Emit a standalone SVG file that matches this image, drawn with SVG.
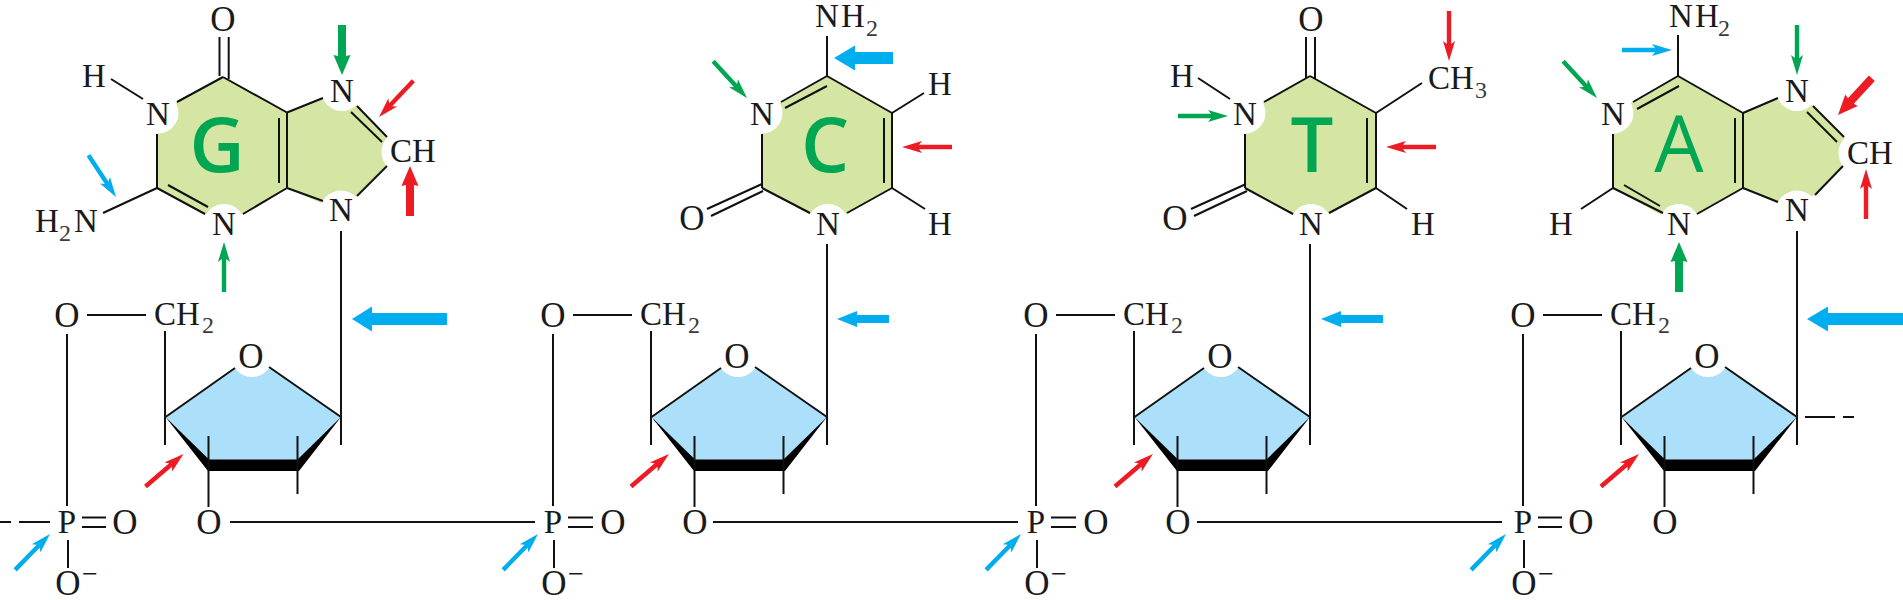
<svg xmlns="http://www.w3.org/2000/svg" xmlns:xlink="http://www.w3.org/1999/xlink" width="1903" height="600" viewBox="0 0 1903 600">
<style>
text{font-family:"Liberation Serif","Times New Roman",serif;font-size:33px;fill:#1a1a1a}
.m{text-anchor:middle}
.o{font-size:35px}
.s{font-size:24px;fill:#3a3a3a}
.l{font-family:"Open Sans","Noto Sans",sans-serif;font-size:76px;font-weight:600;fill:#00a651;text-anchor:middle}
.base{fill:#d5e5a3}
.sug{fill:#abdffa}
.w{fill:#fff}
.k{fill:#000}
line,polyline{stroke:#111;stroke-width:2;fill:none}
.r{fill:#ed1c24}.g{fill:#00a651}.b{fill:#00aeef}
</style>
<defs>
<path id="thin" d="M0 0L-20-6-17-2.2H-50V2.2H-17L-20 6Z"/>
<path id="thick" d="M0 0L-20-8.5-19-4H-50V4H-19L-20 8.5Z"/>
<g id="ring">
<polygon class="sug" points="165.500,417 253,356 341,417 297.500,465 209,465"/>
<circle class="w" cx="252" cy="356" r="21"/>
<polygon class="k" points="165.500,417 209,459.500 297.500,459.500 341,417 299,471 208,471"/>
</g>
</defs>
<rect width="1903" height="600" fill="#fff"/>

<g id="base-G">
<polygon class="base" points="223,77 287,112.500 342,90 387,137 395,152 387,166 341,212 287,188 224,225 157,188 157,113"/>
<circle class="w" cx="158" cy="113" r="20.500"/><circle class="w" cx="224" cy="225" r="21"/><circle class="w" cx="342" cy="90" r="21"/><circle class="w" cx="341" cy="212" r="21.500"/><circle class="w" cx="403" cy="152" r="21.500"/>
<text class="l" x="217" y="172">G</text>
<text class="m o" x="223" y="31">O</text><text class="m" x="94" y="87">H</text><text class="m" x="158" y="125">N</text>
<text class="m" x="342" y="102">N</text><text x="390" y="162">CH</text><text class="m" x="341" y="221">N</text><text class="m" x="224" y="235">N</text>
<text x="35" y="232">H<tspan class="s" x="59" y="241">2</tspan><tspan x="74" y="232">N</tspan></text>
</g>
<g id="base-C">
<polygon class="base" points="827,76 892,113 892,188 828,225 762,188 762,113"/>
<circle class="w" cx="762" cy="113" r="20.500"/><circle class="w" cx="828" cy="225" r="21"/>
<text class="l" x="825" y="172">C</text>
<text x="815" y="27">N<tspan x="841" y="27">H</tspan><tspan class="s" x="866" y="36">2</tspan></text>
<text class="m" x="762" y="125">N</text><text class="m" x="940" y="95">H</text><text class="m" x="940" y="235">H</text><text class="m o" x="692" y="230">O</text><text class="m" x="828" y="235">N</text>
</g>
<g id="base-T">
<polygon class="base" points="1310,76 1376,113 1376,188 1310,225 1245,188 1245,113"/>
<circle class="w" cx="1245" cy="113" r="20.500"/><circle class="w" cx="1311" cy="225" r="21"/>
<text class="l" x="1312" y="172">T</text>
<text class="m o" x="1311" y="31">O</text><text class="m" x="1182" y="87">H</text><text class="m" x="1245" y="125">N</text>
<text x="1428" y="89">CH<tspan class="s" x="1475" y="98">3</tspan></text>
<text class="m" x="1423" y="235">H</text><text class="m o" x="1175" y="230">O</text><text class="m" x="1311" y="235">N</text>
</g>
<g id="base-A">
<polygon class="base" points="1678,76 1743,113 1797,90 1844,137 1852,152 1843,166 1797,212 1743,188 1679,225 1613,188 1613,113"/>
<circle class="w" cx="1613" cy="113" r="20.500"/><circle class="w" cx="1679" cy="225" r="21"/><circle class="w" cx="1797" cy="90" r="21"/><circle class="w" cx="1797" cy="212" r="21.500"/><circle class="w" cx="1860" cy="153" r="21.500"/>
<text class="l" x="1679" y="172" style="font-weight:400;font-size:78px">A</text>
<text x="1669" y="27">N<tspan x="1695" y="27">H</tspan><tspan class="s" x="1718" y="36">2</tspan></text>
<text class="m" x="1613" y="125">N</text><text class="m" x="1797" y="102">N</text><text x="1847" y="164">CH</text><text class="m" x="1797" y="221">N</text><text class="m" x="1561" y="235">H</text><text class="m" x="1679" y="235">N</text>
</g>

<g id="sugar-1"><use href="#ring" xlink:href="#ring"/>
<text class="m o" x="67" y="327">O</text><text x="154" y="325">CH<tspan class="s" x="202" y="333">2</tspan></text><text class="m o" x="251" y="368">O</text><text class="m o" x="209" y="534">O</text></g>
<g id="sugar-2" transform="translate(486 0)"><use href="#ring" xlink:href="#ring"/>
<text class="m o" x="67" y="327">O</text><text x="154" y="325">CH<tspan class="s" x="202" y="333">2</tspan></text><text class="m o" x="251" y="368">O</text><text class="m o" x="209" y="534">O</text></g>
<g id="sugar-3" transform="translate(969 0)"><use href="#ring" xlink:href="#ring"/>
<text class="m o" x="67" y="327">O</text><text x="154" y="325">CH<tspan class="s" x="202" y="333">2</tspan></text><text class="m o" x="251" y="368">O</text><text class="m o" x="209" y="534">O</text></g>
<g id="sugar-4" transform="translate(1456 0)"><use href="#ring" xlink:href="#ring"/>
<text class="m o" x="67" y="327">O</text><text x="154" y="325">CH<tspan class="s" x="202" y="333">2</tspan></text><text class="m o" x="251" y="368">O</text><text class="m o" x="209" y="534">O</text></g>

<g id="phosphate-1"><text class="m" x="67" y="533">P</text><text class="m o" x="125" y="534">O</text><text class="m o" x="68" y="595">O<tspan x="90" y="583" font-size="28">−</tspan></text></g>
<g id="phosphate-2" transform="translate(486 0)"><text class="m" x="67" y="533">P</text><text class="m o" x="127" y="534">O</text><text class="m o" x="68" y="595">O<tspan x="90" y="583" font-size="28">−</tspan></text></g>
<g id="phosphate-3" transform="translate(969 0)"><text class="m" x="67" y="533">P</text><text class="m o" x="127" y="534">O</text><text class="m o" x="68" y="595">O<tspan x="90" y="583" font-size="28">−</tspan></text></g>
<g id="phosphate-4" transform="translate(1456 0)"><text class="m" x="67" y="533">P</text><text class="m o" x="125" y="534">O</text><text class="m o" x="68" y="595">O<tspan x="90" y="583" font-size="28">−</tspan></text></g>

<g id="connectors">
<g id="bonds-G">
<line x1="177" y1="102" x2="223" y2="77"/><line x1="223" y1="77" x2="287" y2="112.500"/><line x1="287" y1="112.500" x2="287" y2="188"/><line x1="279" y1="118" x2="279" y2="183"/>
<line x1="287" y1="112.500" x2="323" y2="98"/><line x1="357" y1="106" x2="387" y2="137"/><line x1="351" y1="112" x2="382" y2="142"/><line x1="387" y1="166" x2="357" y2="196"/><line x1="323" y1="201" x2="287" y2="188"/>
<line x1="243" y1="214" x2="287" y2="188"/><line x1="157" y1="188" x2="205" y2="214"/><line x1="168" y1="185" x2="208" y2="207"/><line x1="157" y1="134" x2="157" y2="188"/>
<line x1="219.500" y1="37" x2="219.500" y2="76"/><line x1="228.700" y1="37" x2="228.700" y2="79"/><line x1="111" y1="79" x2="143" y2="99"/><line x1="103" y1="213" x2="157" y2="188"/>
<line x1="341" y1="231" x2="341" y2="445"/>
</g>
<g id="bonds-C">
<line x1="781" y1="102" x2="827" y2="76"/><line x1="785" y1="108" x2="827" y2="86"/><line x1="827" y1="76" x2="892" y2="113"/><line x1="892" y1="113" x2="892" y2="188"/><line x1="884" y1="118" x2="884" y2="183"/>
<line x1="892" y1="188" x2="847" y2="213"/><line x1="762" y1="188" x2="810" y2="213"/><line x1="762" y1="134" x2="762" y2="188"/>
<line x1="762" y1="184" x2="707" y2="209"/><line x1="763" y1="191" x2="711" y2="216"/><line x1="827" y1="36" x2="827" y2="76"/><line x1="892" y1="113" x2="924" y2="93"/><line x1="892" y1="188" x2="925" y2="209"/>
<line x1="827" y1="244" x2="827" y2="445"/>
</g>
<g id="bonds-T">
<line x1="1264" y1="102" x2="1310" y2="76"/><line x1="1310" y1="76" x2="1376" y2="113"/><line x1="1376" y1="113" x2="1376" y2="188"/><line x1="1367" y1="118" x2="1367" y2="183"/>
<line x1="1306" y1="37" x2="1306" y2="78"/><line x1="1315" y1="37" x2="1315" y2="79"/><line x1="1198" y1="78" x2="1230" y2="99"/><line x1="1376" y1="113" x2="1422" y2="83"/>
<line x1="1376" y1="188" x2="1329" y2="213"/><line x1="1376" y1="188" x2="1407" y2="209"/><line x1="1245" y1="188" x2="1293" y2="214"/><line x1="1245" y1="134" x2="1245" y2="188"/>
<line x1="1246" y1="184" x2="1191" y2="209"/><line x1="1247" y1="191" x2="1194" y2="216"/>
<line x1="1310" y1="244" x2="1310" y2="445"/>
</g>
<g id="bonds-A">
<line x1="1633" y1="102" x2="1678" y2="76"/><line x1="1637" y1="109" x2="1679" y2="86"/><line x1="1678" y1="35" x2="1678" y2="76"/><line x1="1678" y1="76" x2="1743" y2="113"/><line x1="1743" y1="113" x2="1743" y2="188"/><line x1="1735" y1="118" x2="1735" y2="183"/>
<line x1="1743" y1="113" x2="1778" y2="98"/><line x1="1813" y1="106" x2="1844" y2="137"/><line x1="1807" y1="112" x2="1837" y2="142"/><line x1="1843" y1="166" x2="1815" y2="195"/><line x1="1778" y1="202" x2="1743" y2="188"/>
<line x1="1743" y1="188" x2="1697" y2="214"/><line x1="1613" y1="188" x2="1663" y2="213"/><line x1="1624" y1="185" x2="1660" y2="206"/><line x1="1613" y1="188" x2="1581" y2="209"/><line x1="1613" y1="134" x2="1613" y2="188"/>
<line x1="1797" y1="231" x2="1797" y2="445"/>
</g>
<g id="bonds-unit-1">
<line x1="87" y1="315" x2="146" y2="315"/><line x1="67" y1="334" x2="67" y2="506"/><line x1="165" y1="331" x2="165" y2="445"/><line x1="165.500" y1="417" x2="235" y2="368"/><line x1="269" y1="367" x2="341" y2="417"/>
<line x1="208.500" y1="436" x2="208.500" y2="507"/><line x1="297.500" y1="436" x2="297.500" y2="494"/><line x1="82" y1="517.500" x2="106" y2="517.500"/><line x1="82" y1="527" x2="106" y2="527"/><line x1="68" y1="540" x2="68" y2="568"/>
</g>
<g id="bonds-unit-2" transform="translate(486 0)">
<line x1="87" y1="315" x2="146" y2="315"/><line x1="67" y1="334" x2="67" y2="506"/><line x1="165" y1="331" x2="165" y2="445"/><line x1="165.500" y1="417" x2="235" y2="368"/><line x1="269" y1="367" x2="341" y2="417"/>
<line x1="208.500" y1="436" x2="208.500" y2="507"/><line x1="297.500" y1="436" x2="297.500" y2="494"/><line x1="82" y1="517.500" x2="107" y2="517.500"/><line x1="82" y1="527" x2="107" y2="527"/><line x1="68" y1="540" x2="68" y2="568"/>
</g>
<g id="bonds-unit-3" transform="translate(969 0)">
<line x1="87" y1="315" x2="146" y2="315"/><line x1="67" y1="334" x2="67" y2="506"/><line x1="165" y1="331" x2="165" y2="445"/><line x1="165.500" y1="417" x2="235" y2="368"/><line x1="269" y1="367" x2="341" y2="417"/>
<line x1="208.500" y1="436" x2="208.500" y2="507"/><line x1="297.500" y1="436" x2="297.500" y2="494"/><line x1="82" y1="517.500" x2="107" y2="517.500"/><line x1="82" y1="527" x2="107" y2="527"/><line x1="68" y1="540" x2="68" y2="568"/>
</g>
<g id="bonds-unit-4" transform="translate(1456 0)">
<line x1="87" y1="315" x2="146" y2="315"/><line x1="67" y1="334" x2="67" y2="506"/><line x1="165" y1="331" x2="165" y2="445"/><line x1="165.500" y1="417" x2="235" y2="368"/><line x1="269" y1="367" x2="341" y2="417"/>
<line x1="208.500" y1="436" x2="208.500" y2="507"/><line x1="297.500" y1="436" x2="297.500" y2="494"/><line x1="82" y1="517.500" x2="106" y2="517.500"/><line x1="82" y1="527" x2="106" y2="527"/><line x1="68" y1="540" x2="68" y2="568"/>
</g>
<g id="backbone">
<line x1="0" y1="522" x2="11" y2="522"/><line x1="19" y1="522" x2="50" y2="522"/><line x1="230" y1="522" x2="535" y2="522"/><line x1="713" y1="522" x2="1018" y2="522"/><line x1="1197" y1="522" x2="1502" y2="522"/>
<line x1="1805" y1="417" x2="1835" y2="417"/><line x1="1843" y1="417" x2="1854" y2="417"/>
</g>
<g id="arrows">
<use href="#thick" xlink:href="#thick" class="g" transform="translate(342 75) rotate(90)"/>
<use href="#thin" xlink:href="#thin" class="r" transform="translate(379 117) rotate(133.400)"/>
<use href="#thick" xlink:href="#thick" class="r" transform="translate(410 166) rotate(-90)"/>
<use href="#thin" xlink:href="#thin" class="b" transform="translate(116 197) rotate(56.600)"/>
<use href="#thin" xlink:href="#thin" class="g" transform="translate(224 242) rotate(-90)"/>
<path class="b" d="M352 319L372 306.500V313H447V325H372V331.500Z"/>
<use href="#thin" xlink:href="#thin" class="g" transform="translate(747 98) rotate(47.400)"/>
<path class="b" d="M834 58L855 45.500V52H893V64H855V70.500Z"/>
<use href="#thin" xlink:href="#thin" class="r" transform="translate(902 147) rotate(180)"/>
<path class="b" d="M837 319L857 311V315H889V323H857V327Z"/>
<use href="#thin" xlink:href="#thin" class="r" transform="translate(1449 61) rotate(90)"/>
<use href="#thin" xlink:href="#thin" class="g" transform="translate(1228 116)"/>
<use href="#thin" xlink:href="#thin" class="r" transform="translate(1386 147) rotate(180)"/>
<path class="b" d="M1321 319L1341 311V315H1383V323H1341V327Z"/>
<use href="#thin" xlink:href="#thin" class="b" transform="translate(1672 50)"/>
<use href="#thin" xlink:href="#thin" class="g" transform="translate(1597 98) rotate(47.400)"/>
<use href="#thin" xlink:href="#thin" class="g" transform="translate(1797 75) rotate(90)"/>
<use href="#thick" xlink:href="#thick" class="r" transform="translate(1838 115) rotate(132.600)"/>
<use href="#thin" xlink:href="#thin" class="r" transform="translate(1866 169) rotate(-90)"/>
<use href="#thick" xlink:href="#thick" class="g" transform="translate(1679 242) rotate(-90)"/>
<path class="b" d="M1807 319L1828 306.500V313H1903V325H1828V331.500Z"/>
<use href="#thin" xlink:href="#thin" class="b" transform="translate(50 534) rotate(-45.800)"/>
<use href="#thin" xlink:href="#thin" class="b" transform="translate(538 534) rotate(-45.800)"/>
<use href="#thin" xlink:href="#thin" class="b" transform="translate(1021 534) rotate(-45.800)"/>
<use href="#thin" xlink:href="#thin" class="b" transform="translate(1506 534) rotate(-45.800)"/>
<use href="#thin" xlink:href="#thin" class="r" transform="translate(183.500 454) rotate(-40.500)"/>
<use href="#thin" xlink:href="#thin" class="r" transform="translate(669 454) rotate(-40.500)"/>
<use href="#thin" xlink:href="#thin" class="r" transform="translate(1153 454) rotate(-40.500)"/>
<use href="#thin" xlink:href="#thin" class="r" transform="translate(1639 454) rotate(-40.500)"/>
</g>
</g>
</svg>
